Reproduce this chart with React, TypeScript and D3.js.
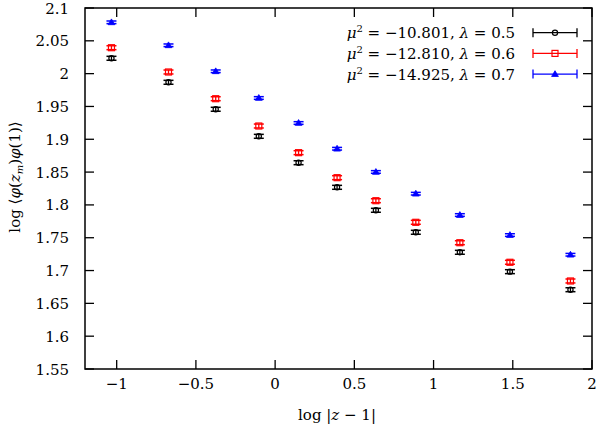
import React from "react";
import * as d3 from "d3";

const xValues = [-1.033, -0.673, -0.375, -0.103, 0.148, 0.391, 0.636, 0.888, 1.166, 1.482, 1.864];
const seriesBlack = [2.0234, 1.9868, 1.9457, 1.9045, 1.8643, 1.8268, 1.7918, 1.7583, 1.7278, 1.6983, 1.6708];
const seriesRed = [2.0395, 2.0025, 1.9618, 1.9202, 1.8796, 1.8415, 1.8064, 1.7735, 1.7424, 1.7126, 1.6841];
const seriesBlue = [2.0782, 2.0432, 2.0036, 1.9629, 1.9248, 1.8856, 1.8502, 1.8171, 1.7846, 1.7541, 1.7241];
const errBlack = [0.003, 0.003, 0.003, 0.003, 0.003, 0.003, 0.003, 0.003, 0.003, 0.003, 0.003];
const errRed = [0.003, 0.003, 0.003, 0.003, 0.003, 0.003, 0.003, 0.003, 0.003, 0.003, 0.003];
const errBlue = [0.002, 0.002, 0.002, 0.002, 0.002, 0.002, 0.002, 0.002, 0.002, 0.002, 0.002];
const xTicks = [-1, -0.5, 0, 0.5, 1, 1.5, 2];
const yTicks = [1.55, 1.6, 1.65, 1.7, 1.75, 1.8, 1.85, 1.9, 1.95, 2, 2.05, 2.1];
const legendMu = ["−10.801", "−12.810", "−14.925"];
const legendLambda = ["0.5", "0.6", "0.7"];

const W = 599, H = 431;
const L = 85, R = 592, T = 8, B = 369;
const FONT = "'DejaVu Serif', serif";

type Marker = "circle" | "square" | "triangle";

function MarkerShape({ kind, x, y, color }: { kind: Marker; x: number; y: number; color: string }) {
  if (kind === "circle") return <circle cx={x} cy={y} r={2.6} fill="none" stroke={color} strokeWidth={1.2} />;
  if (kind === "square") return <rect x={x - 3} y={y - 3} width={6} height={6} fill="none" stroke={color} strokeWidth={1.2} />;
  const s = 3.4;
  return <path d={`M${x},${y - s} L${x + s},${y + s * 0.7} L${x - s},${y + s * 0.7} Z`} fill={color} stroke={color} strokeWidth={0.8} />;
}

export default function App() {
  const x = d3.scaleLinear().domain([-1.2, 2]).range([L, R]);
  const y = d3.scaleLinear().domain([1.55, 2.1]).range([B, T]);
  const fmt = (v: number) => (v < 0 ? "−" + String(Math.abs(v)) : String(v));

  const series = [
    { vals: seriesBlack, errs: errBlack, color: "#000000", kind: "circle" as Marker },
    { vals: seriesRed, errs: errRed, color: "#ff0000", kind: "square" as Marker },
    { vals: seriesBlue, errs: errBlue, color: "#0000ff", kind: "triangle" as Marker },
  ];
  const cap = 5;

  return (
    <svg width={W} height={H} style={{ position: "absolute", left: 0, top: 0, background: "#fff" }} fontFamily={FONT}>
      <rect x={0} y={0} width={W} height={H} fill="#fff" />
      {/* ticks */}
      {xTicks.map((t) => (
        <g key={"xt" + t}>
          <line x1={x(t)} x2={x(t)} y1={B} y2={B - 9} stroke="#000" strokeWidth={1.3} />
          <line x1={x(t)} x2={x(t)} y1={T} y2={T + 9} stroke="#000" strokeWidth={1.3} />
          <text x={x(t)} y={389} textAnchor="middle" fontSize={15}>{fmt(t)}</text>
        </g>
      ))}
      {yTicks.map((t) => (
        <g key={"yt" + t}>
          <line x1={L} x2={L + 9} y1={y(t)} y2={y(t)} stroke="#000" strokeWidth={1.3} />
          <line x1={R} x2={R - 9} y1={y(t)} y2={y(t)} stroke="#000" strokeWidth={1.3} />
          <text x={69} y={y(t) + 5.5} textAnchor="end" fontSize={15}>{fmt(t)}</text>
        </g>
      ))}
      <rect x={L} y={T} width={R - L} height={B - T} fill="none" stroke="#000" strokeWidth={1.5} />
      {/* data */}
      {series.map((s, si) => (
        <g key={"s" + si}>
          {s.vals.map((v, i) => {
            const cx = x(xValues[i]);
            const y1 = y(v + s.errs[i]);
            const y2 = y(v - s.errs[i]);
            return (
              <g key={i}>
                <line x1={cx} x2={cx} y1={y1} y2={y2} stroke={s.color} strokeWidth={1.3} />
                <line x1={cx - cap} x2={cx + cap} y1={y1} y2={y1} stroke={s.color} strokeWidth={1.5} />
                <line x1={cx - cap} x2={cx + cap} y1={y2} y2={y2} stroke={s.color} strokeWidth={1.5} />
                <MarkerShape kind={s.kind} x={cx} y={y(v)} color={s.color} />
              </g>
            );
          })}
        </g>
      ))}
      {/* legend */}
      {series.map((s, i) => {
        const ly = 32.7 + i * 20.7;
        return (
          <g key={"lg" + i}>
            <text x={515} y={ly + 5.5} textAnchor="end" fontSize={15}>
              <tspan fontStyle="italic">μ</tspan>
              <tspan fontSize={10} dy={-6}>2</tspan>
              <tspan dy={6}>{" = " + legendMu[i] + ", "}</tspan>
              <tspan fontStyle="italic">λ</tspan>
              <tspan>{" = " + legendLambda[i]}</tspan>
            </text>
            <line x1={533} x2={577} y1={ly} y2={ly} stroke={s.color} strokeWidth={1.3} />
            <line x1={533} x2={533} y1={ly - 4.5} y2={ly + 4.5} stroke={s.color} strokeWidth={1.3} />
            <line x1={577} x2={577} y1={ly - 4.5} y2={ly + 4.5} stroke={s.color} strokeWidth={1.3} />
            <MarkerShape kind={s.kind} x={555} y={ly} color={s.color} />
          </g>
        );
      })}
      {/* axis labels */}
      <text x={337} y={420} textAnchor="middle" fontSize={15}>
        log |<tspan fontStyle="italic">z</tspan> − 1|
      </text>
      <text transform="translate(20,177) rotate(-90)" textAnchor="middle" fontSize={15}>
        log ⟨<tspan fontStyle="italic">φ</tspan>(<tspan fontStyle="italic">z</tspan>
        <tspan fontSize={10} fontStyle="italic" dy={3}>m</tspan>
        <tspan dy={-3}>)</tspan>
        <tspan fontStyle="italic">φ</tspan>(1)⟩
      </text>
    </svg>
  );
}
